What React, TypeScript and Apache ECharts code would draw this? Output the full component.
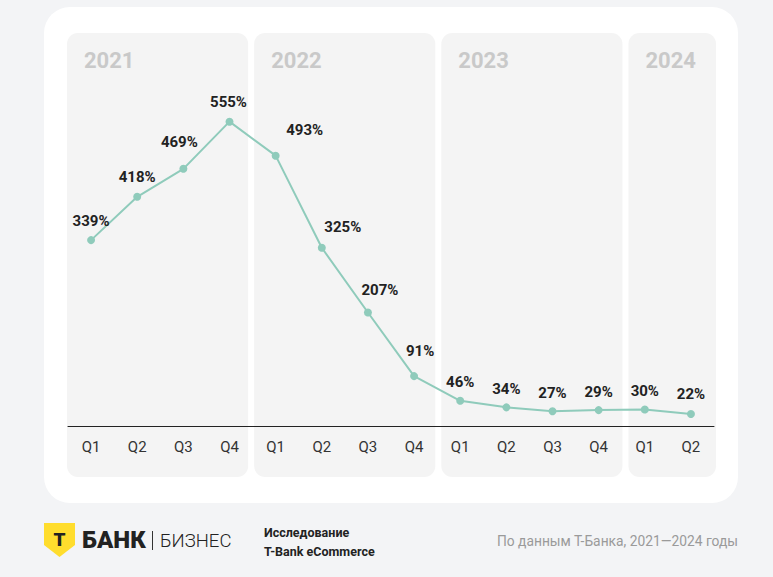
import React, { useEffect, useRef } from "react";
import * as echarts from "echarts";

const quarters = ["Q1", "Q2", "Q3", "Q4", "Q1", "Q2", "Q3", "Q4", "Q1", "Q2", "Q3", "Q4", "Q1", "Q2"];
const values = [339, 418, 469, 555, 493, 325, 207, 91, 46, 34, 27, 29, 30, 22];
const years = ["2021", "2022", "2023", "2024"];
const yearStart = [0, 4, 8, 12];
const yearEnd = [3, 7, 11, 13];

const labelShift: [number, number][] = [
  [0, -3], [0, -3], [-4, -10], [-1, -3], [29, -9], [21, -4], [12, -6], [6, -9],
  [0, -2], [0, -2], [0, -2], [0, -2], [0, -2], [0, -3],
];

export default function App() {
  const ref = useRef<HTMLDivElement>(null);
  useEffect(() => {
    if (!ref.current) return;
    const chart = echarts.init(ref.current, null, { renderer: "svg" });
    const font = "Roboto, 'Noto Sans', sans-serif";
    const panelData = years.map((y, i) => [yearStart[i], yearEnd[i], y]);
    chart.setOption({
      animation: false,
      backgroundColor: "#f3f4f6",
      textStyle: { fontFamily: font },
      grid: { left: 68, right: 59, top: 97, bottom: 151 },
      xAxis: {
        type: "category",
        data: quarters,
        boundaryGap: true,
        axisLine: { lineStyle: { color: "#222", width: 1 } },
        axisTick: { show: false },
        axisLabel: { color: "#333", fontSize: 15, margin: 13, fontFamily: font },
        z: 5,
      },
      yAxis: { type: "value", min: 0, max: 600, show: false, splitLine: { show: false } },
      graphic: [
        { type: "rect", z: -10, shape: { x: 44, y: 7, width: 694, height: 496, r: 26 }, style: { fill: "#ffffff" } },
        {
          type: "polygon", shape: { points: [[44, 523], [75, 523], [75, 545], [59.5, 557], [44, 545]] },
          style: { fill: "#ffdd2d" },
        },
        { type: "text", x: 59.5, y: 539, style: { text: "Т", font: `900 19px ${font}`, fill: "#222", align: "center", verticalAlign: "middle" } },
        { type: "text", x: 82, y: 540, style: { text: "БАНК", font: `900 24px ${font}`, fill: "#222", verticalAlign: "middle" } },
        { type: "rect", shape: { x: 152, y: 531, width: 1, height: 19 }, style: { fill: "#333" } },
        { type: "text", x: 160, y: 541, style: { text: "БИЗНЕС", font: `300 18.5px ${font}`, fill: "#222", verticalAlign: "middle" } },
        { type: "text", x: 264, y: 532, style: { text: "Исследование", font: `bold 12.5px ${font}`, fill: "#222", verticalAlign: "middle" } },
        { type: "text", x: 264, y: 551, style: { text: "T-Bank eCommerce", font: `bold 12.5px ${font}`, fill: "#222", verticalAlign: "middle" } },
        { type: "text", x: 738, y: 541, style: { text: "По данным Т-Банка, 2021—2024 годы", font: `13.8px ${font}`, fill: "#9a9a9a", align: "right", verticalAlign: "middle" } },
      ],
      series: [
        {
          type: "custom",
          z: 0,
          silent: true,
          clip: false,
          data: panelData,
          renderItem: (params: any, api: any) => {
            const s = api.value(0);
            const e = api.value(1);
            const band = api.size([1, 0])[0];
            const left = api.coord([0, 0])[0] - band / 2 - 1;
            const pitch = band * 1.014;
            const x0 = left + s * pitch;
            const w = (e - s + 1) * pitch - 6;
            return {
              type: "group",
              children: [
                { type: "rect", shape: { x: x0, y: 33, width: w, height: 444, r: 11 }, style: { fill: "#f4f4f4" } },
                {
                  type: "text", x: x0 + 17, y: 60,
                  style: { text: years[params.dataIndex], font: `bold 22px ${font}`, fill: "#c9c9c9", verticalAlign: "middle" },
                },
              ],
            };
          },
        },
        {
          type: "line",
          z: 3,
          data: values.map((v, i) => ({
            value: v,
            label: { offset: labelShift[i] },
          })),
          symbol: "circle",
          symbolSize: 8,
          lineStyle: { color: "#8fcbbb", width: 2 },
          itemStyle: { color: "#8fcbbb" },
          label: {
            show: true,
            position: "top",
            formatter: "{c}%",
            color: "#222",
            fontSize: 15,
            fontWeight: "bold",
            fontFamily: font,
          },
        },
      ],
    });
    return () => chart.dispose();
  }, []);
  return <div ref={ref} style={{ position: "fixed", left: 0, top: 0, width: 773, height: 577 }} />;
}
